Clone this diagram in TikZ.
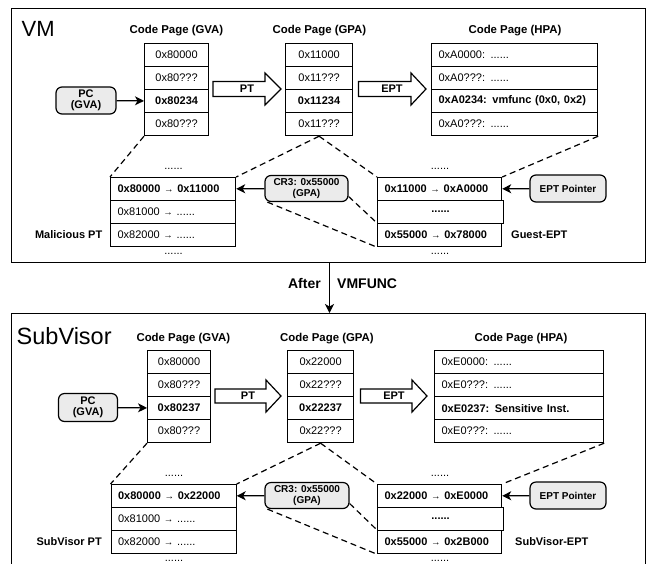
\documentclass[tikz,border=0pt]{standalone}
\usepackage{fontspec}
\setmainfont{Liberation Sans}
\usetikzlibrary{arrows.meta}
\newcommand\pxf[1]{\fontsize{#1}{#1}\selectfont}
\newcommand\ra{\raisebox{0.8pt}{\fontsize{9.5}{9.5}\selectfont→}}
\tikzset{
  ccell/.style={draw, line width=1.2pt, fill=white, anchor=north west, minimum width=#1, minimum height=23pt, inner sep=0pt, font=\pxf{11}},
  lcell/.style={draw, line width=1.2pt, fill=white, anchor=north west, text width=#1, align=left, inner xsep=7pt, inner ysep=0pt, minimum height=23pt, font=\pxf{11}},
  bf/.style={font=\pxf{11}\bfseries},
  rbox/.style={draw, line width=1.2pt, rounded corners=6pt, fill=black!8, font=\fontsize{10}{11.5}\selectfont\bfseries, align=center, inner sep=0pt},
  pcbox/.style={rbox, font=\fontsize{11}{11.5}\selectfont\bfseries},
  title/.style={font=\pxf{11.4}\bfseries, inner sep=0pt},
  dotlab/.style={font=\pxf{11}, inner sep=0pt},
  side/.style={font=\pxf{11}\bfseries, inner sep=0pt},
  big/.style={font=\pxf{#1}, inner sep=0pt, anchor=west},
  arr/.style={line width=1.2pt, -{Stealth[length=9pt, width=9pt, inset=2.5pt]}},
  dsh/.style={line width=1.2pt, dash pattern=on 6pt off 4pt},
  barrow/.style={draw, line width=1.2pt, fill=white, line join=miter},
  frame/.style={draw, line width=1.3pt, anchor=north west, inner sep=0pt},
  arrlab/.style={font=\pxf{11}\bfseries, inner sep=0pt},
  vmf/.style={font=\pxf{14}\bfseries, inner sep=0pt}
}
\begin{document}
\begin{tikzpicture}[x=1pt,y=-1pt]
\useasboundingbox (0,0) rectangle (647,563);
\clip (0,0) rectangle (647,563);

% ================= TOP PANEL (VM) =================
\node[frame, minimum width=634pt, minimum height=254pt] (topF) at (11,8) {};
\node[big=22] (aVM) at (21.5,28.7) {VM};
\node[title] (aTV) at (176.5,31) {Code Page (GVA)};
\node[title] (aTG) at (319.5,31) {Code Page (GPA)};
\node[title] (aTH) at (515,31) {Code Page (HPA)};

\node[ccell=64pt] (aV1) at (144,43) {0x80000};
\node[ccell=64pt] (aV2) at (144,66) {0x80???};
\node[ccell=64pt, bf] (aV3) at (144,89) {0x80234};
\node[ccell=64pt] (aV4) at (144,112) {0x80???};

\node[ccell=67pt] (aG1) at (285,43) {0x11000};
\node[ccell=67pt] (aG2) at (285,66) {0x11???};
\node[ccell=67pt, bf] (aG3) at (285,89) {0x11234};
\node[ccell=67pt] (aG4) at (285,112) {0x11???};

\node[lcell=152pt] (aH1) at (431,43) {0xA0000: ......};
\node[lcell=152pt] (aH2) at (431,66) {0xA0???: ......};
\node[lcell=152pt, bf] (aH3) at (431,89) {0xA0234: vmfunc (0x0, 0x2)};
\node[lcell=152pt] (aH4) at (431,112) {0xA0???: ......};

\node[pcbox, minimum width=60pt, minimum height=27pt] (aPC) at (86,100.5) {PC\\(GVA)};
\draw[arr] (aPC) -- (aV3);

\coordinate (aPTs) at (213,89);
\draw[barrow] (aPTs) ++(0,-7.5) -- ++(52,0) -- ++(0,-8.5) -- ++(16,16) -- ++(-16,16) -- ++(0,-8.5) -- ++(-52,0) -- cycle;
\node[arrlab] (aPT) at (247,89) {PT};
\coordinate (aEPs) at (358.5,89);
\draw[barrow] (aEPs) ++(0,-7.5) -- ++(52.5,0) -- ++(0,-8.5) -- ++(15,16) -- ++(-15,16) -- ++(0,-8.5) -- ++(-52.5,0) -- cycle;
\node[arrlab] (aEPT) at (392,89) {EPT};

\node[lcell=111pt, bf] (aP1) at (110,177) {0x80000 \ra{} 0x11000};
\node[lcell=111pt] (aP2) at (110,200) {0x81000 \ra{} ......};
\node[lcell=111pt] (aP3) at (110,223) {0x82000 \ra{} ......};
\node[dotlab] (aPd1) at (173.5,169) {......};
\node[dotlab] (aPd2) at (173.5,254) {......};
\node[side, anchor=east] (aPL) at (102.5,234.5) {Malicious PT};

\node[rbox, minimum width=83pt, minimum height=26pt] (aCR) at (306.5,188.5) {CR3: 0x55000\\(GPA)};
\draw[arr] (aCR) -- (aP1);

\node[lcell=110pt, bf] (aE1) at (377,177) {0x11000 \ra{} 0xA0000};
\node[ccell=126pt, bf] (aE2) at (377,200) {......};
\node[lcell=110pt, bf] (aE3) at (377,223) {0x55000 \ra{} 0x78000};
\node[dotlab] (aEd1) at (440,169) {......};
\node[dotlab] (aEd2) at (440,254) {......};
\node[side, anchor=west] (aEL) at (511,235) {Guest-EPT};

\node[rbox, minimum width=76pt, minimum height=27pt] (aEP) at (568,188.5) {EPT Pointer};
\draw[arr] (aEP) -- (aE1);

\draw[dsh] (aV4.south west) -- (aP1.north west);
\draw[dsh] (aG4.south) -- (aP1.north east);
\draw[dsh] (aG4.south) -- (aE1.north west);
\draw[dsh] (aH4.south east) -- (aE1.north east);
\draw[dsh] ([xshift=3pt]aCR.south west) -- (aE3.south west);
\draw[dsh] ([yshift=-8pt]aCR.east) -- (aE3.north west);

% ================= TRANSITION =================
\node[frame, minimum width=634pt, minimum height=258pt] (botF) at (11,313) {};
\coordinate (vx) at (329.5,0);
\draw[arr] (topF.south -| vx) -- (botF.north -| vx);
\node[vmf, anchor=east] (after) at (321,283.5) {After};
\node[vmf, anchor=west] (vmfunc) at (337,283.5) {VMFUNC};

% ================= BOTTOM PANEL (SubVisor) =================
\node[big=23.5] (bSV) at (16.5,336.5) {SubVisor};
\node[title] (bTV) at (183.3,338.5) {Code Page (GVA)};
\node[title] (bTG) at (327,338.5) {Code Page (GPA)};
\node[title] (bTH) at (521,338.5) {Code Page (HPA)};

\node[ccell=63pt] (bV1) at (147,350) {0x80000};
\node[ccell=63pt] (bV2) at (147,373) {0x80???};
\node[ccell=63pt, bf] (bV3) at (147,396) {0x80237};
\node[ccell=63pt] (bV4) at (147,419) {0x80???};

\node[ccell=66pt] (bG1) at (287,350) {0x22000};
\node[ccell=66pt] (bG2) at (287,373) {0x22???};
\node[ccell=66pt, bf] (bG3) at (287,396) {0x22237};
\node[ccell=66pt] (bG4) at (287,419) {0x22???};

\node[lcell=155pt] (bH1) at (434,350) {0xE0000: ......};
\node[lcell=155pt] (bH2) at (434,373) {0xE0???: ......};
\node[lcell=155pt, bf] (bH3) at (434,396) {0xE0237: Sensitive Inst.};
\node[lcell=155pt] (bH4) at (434,419) {0xE0???: ......};

\node[pcbox, minimum width=59pt, minimum height=28pt] (bPC) at (88,407.5) {PC\\(GVA)};
\draw[arr] (bPC) -- (bV3);

\coordinate (bPTs) at (215,396);
\draw[barrow] (bPTs) ++(0,-7) -- ++(51,0) -- ++(0,-9) -- ++(15,16) -- ++(-15,16) -- ++(0,-9) -- ++(-51,0) -- cycle;
\node[arrlab] (bPT) at (248,396) {PT};
\coordinate (bEPs) at (360.5,396);
\draw[barrow] (bEPs) ++(0,-7) -- ++(51.5,0) -- ++(0,-9) -- ++(15,16) -- ++(-15,16) -- ++(0,-9) -- ++(-51.5,0) -- cycle;
\node[arrlab] (bEPT) at (394,396) {EPT};

\node[lcell=111pt, bf] (bP1) at (110.5,484) {0x80000 \ra{} 0x22000};
\node[lcell=111pt] (bP2) at (110.5,507) {0x81000 \ra{} ......};
\node[lcell=111pt] (bP3) at (110.5,530) {0x82000 \ra{} ......};
\node[dotlab] (bPd1) at (174,476) {......};
\node[dotlab] (bPd2) at (174,561) {......};
\node[side, anchor=east] (bPL) at (102,541.5) {SubVisor PT};

\node[rbox, minimum width=84pt, minimum height=26pt] (bCR) at (307,495.5) {CR3: 0x55000\\(GPA)};
\draw[arr] (bCR) -- (bP1);

\node[lcell=110pt, bf] (bE1) at (377,484) {0x22000 \ra{} 0xE0000};
\node[ccell=126pt, bf] (bE2) at (377,507) {......};
\node[lcell=110pt, bf] (bE3) at (377,530) {0x55000 \ra{} 0x2B000};
\node[dotlab] (bEd1) at (440,476) {......};
\node[dotlab] (bEd2) at (440,561) {......};
\node[side, anchor=west] (bEL) at (515,542) {SubVisor-EPT};

\node[rbox, minimum width=76pt, minimum height=27pt] (bEP) at (568,495.5) {EPT Pointer};
\draw[arr] (bEP) -- (bE1);

\draw[dsh] (bV4.south west) -- (bP1.north west);
\draw[dsh] (bG4.south) -- (bP1.north east);
\draw[dsh] (bG4.south) -- (bE1.north west);
\draw[dsh] (bH4.south east) -- (bE1.north east);
\draw[dsh] ([xshift=3pt]bCR.south west) -- (bE3.south west);
\draw[dsh] ([yshift=-8pt]bCR.east) -- (bE3.north west);
\end{tikzpicture}
\end{document}
